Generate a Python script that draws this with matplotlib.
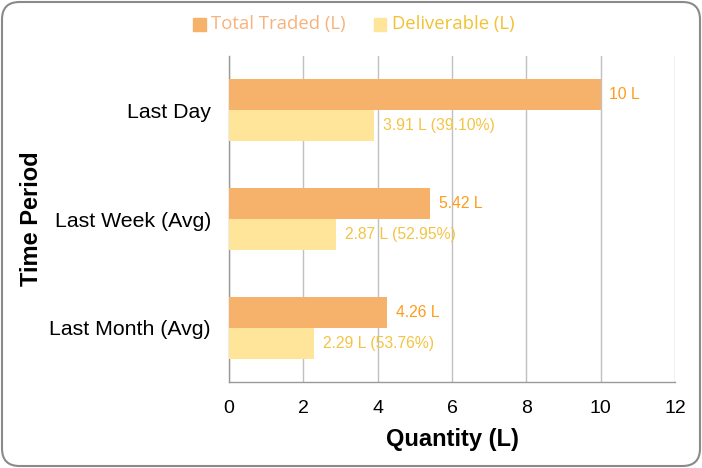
import matplotlib
matplotlib.use("Agg")
import matplotlib.pyplot as plt
from matplotlib.patches import FancyBboxPatch, Rectangle
import numpy as np

categories = ["Last Day", "Last Week (Avg)", "Last Month (Avg)"]
total_traded = [10, 5.42, 4.26]
deliverable = [3.91, 2.87, 2.29]
xticks = [0, 2, 4, 6, 8, 10, 12]

c_total = "#F6B26B"
c_deliv = "#FFE599"
c_total_txt = "#FF9B1A"
c_deliv_txt = "#F3C444"

plt.rcParams['font.family'] = ['Liberation Sans', 'DejaVu Sans']

fig = plt.figure(figsize=(7.02, 4.68), dpi=100)
ax = fig.add_axes([229/702, 1-382/468, (675-229)/702, (382-56)/468])

y = np.arange(len(categories))
h = 0.285
ax.barh(y - h/2, total_traded, height=h, color=c_total, zorder=3)
ax.barh(y + h/2, deliverable, height=h, color=c_deliv, zorder=3)

for yi, t, d in zip(y, total_traded, deliverable):
    ax.annotate(f"{t:g} L", xy=(t, yi - h/2), xytext=(6, 0), textcoords="offset points",
                va="center", ha="left", fontsize=11.3, color=c_total_txt, zorder=4)
    ax.annotate(f"{d:g} L ({d/t*100:.2f}%)", xy=(d, yi + h/2), xytext=(6.5, 0), textcoords="offset points",
                va="center", ha="left", fontsize=11.3, color=c_deliv_txt, zorder=4)

ax.set_ylim(2.5, -0.5)
ax.set_xlim(0, 12)
ax.set_xticks(xticks)
ax.set_xticklabels([str(v) for v in xticks], fontsize=14)
ax.set_yticks(y)
ax.set_yticklabels(categories, fontsize=15.3)
ax.tick_params(axis='both', length=0, pad=13, colors='black')
ax.grid(axis='x', color='#c0c0c0', linewidth=1, zorder=0)
for s in ['top', 'right']:
    ax.spines[s].set_visible(False)
for s in ['left', 'bottom']:
    ax.spines[s].set_color('#999999')
    ax.spines[s].set_linewidth(1)

ax.set_xlabel("Quantity (L)", fontsize=17, fontweight='bold', labelpad=8)
ax.set_ylabel("Time Period", fontsize=17, fontweight='bold', va='center')
ax.yaxis.set_label_coords((32 - 229) / 446, 0.5)

# legend (manual)
fig.patches.append(Rectangle((193/702, 1-31/468), 12.5/702, 12.5/468, transform=fig.transFigure,
                             color=c_total, figure=fig))
fig.text(211/702, 1-24.5/468, "Total Traded (L)", fontsize=13.3, color="#F7B37D",
         va='center', ha='left', family=['Open Sans', 'DejaVu Sans'])
fig.patches.append(Rectangle((374/702, 1-31/468), 12.5/702, 12.5/468, transform=fig.transFigure,
                             color=c_deliv, figure=fig))
fig.text(392/702, 1-24.5/468, "Deliverable (L)", fontsize=13.3, color="#F2C232",
         va='center', ha='left', family=['Open Sans', 'DejaVu Sans'])

# rounded border
border = FancyBboxPatch((2/702, 2/468), 698/702, 464/468,
                        boxstyle="round,pad=0,rounding_size=0.025",
                        transform=fig.transFigure, fill=False, edgecolor='#8a8a8a',
                        linewidth=1.5, figure=fig, mutation_aspect=702/468)
fig.patches.append(border)

fig.savefig("out.png", dpi=100)
